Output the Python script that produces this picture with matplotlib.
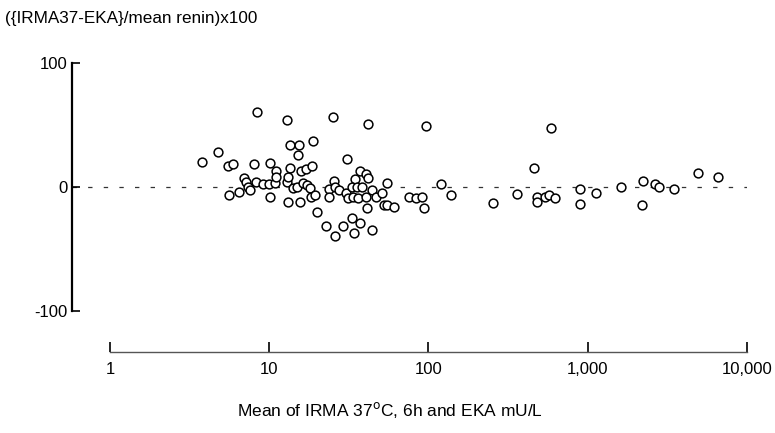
import numpy as np
import matplotlib
matplotlib.use("Agg")
import matplotlib.pyplot as plt

plt.rcParams["font.family"] = ["Liberation Sans", "DejaVu Sans"]
plt.rcParams["axes.unicode_minus"] = False

# mean of IRMA 37C and EKA (mU/L)
mean_renin = [
    3.8, 4.8, 5.5, 5.9, 8.0, 6.9, 7.1, 8.2, 7.4, 5.6, 6.5, 7.6, 8.4,
    13, 25, 42, 97, 13.5, 15.4, 15.2, 18.7, 10.1, 11, 13.5, 15.8, 17, 18.5,
    30.6, 37, 40.5, 42, 34.6, 25.4, 9.1, 9.9, 10.8, 11.1, 12.9, 13.2, 14,
    14.9, 16.4, 17.2, 18, 10.1, 13.2, 15.6, 18.2, 19.4, 20, 23.8, 25.9,
    23.8, 27.6, 30.3, 31.4, 33, 35.4, 38, 33.7, 36, 40.5, 41, 44, 46.6,
    51, 52.6, 54.6, 55, 61, 75, 84, 91, 94, 119, 33, 37, 22.8, 29, 26,
    34, 44,
    585, 460, 138, 255, 358, 478, 478, 539, 571, 623, 894, 894, 1121,
    1618, 2233, 2182, 2645, 2814, 3495, 4900, 6600,
]
# (IRMA37 - EKA) / mean renin x 100
rel_diff = [
    20, 28, 17, 18, 18, 7, 4, 4, 0, -7, -4, -3, 60,
    54, 56, 51, 49, 34, 34, 26, 37, 19, 13, 15, 13, 14, 17,
    22, 13, 10, 7, 6, 5, 2, 2, 3, 8, 4, 8, -1,
    0, 3, 1, -1, -8, -12, -12, -8, -7, -20, -2, 0,
    -8, -3, -5, -9, 0, -0.5, 0, -8, -9, -8, -17, -3, -8,
    -5, -15, 3, -15, -16, -8, -9, -8, -17, 2, -25, -29, -32, -32, -40,
    -37, -35,
    47, 15, -7, -13, -6, -8, -12, -8, -7, -9, -2, -14, -5,
    -0.5, 5, -15, 2, 0, -2, 11, 8,
]

xticks = [1, 10, 100, 1000, 10000]
xticklabels = ["1", "10", "100", "1,000", "10,000"]
yticks = [-100, 0, 100]

fig = plt.figure(figsize=(7.75, 4.33), dpi=100)
ax = fig.add_axes([0.0925, 0.187, 0.8714, 0.6681])

ax.scatter(mean_renin, rel_diff, s=40, facecolors="white", edgecolors="black",
           linewidths=1.1, zorder=3)
ax.axhline(0, color="#333333", lw=0.9, linestyle=(0, (3.5, 9)), zorder=1)

ax.set_xscale("log")
ax.set_xlim(0.575, 10000)
ax.set_ylim(-133.3, 100)
ax.set_xticks(xticks, xticklabels)
ax.minorticks_off()
ax.set_yticks(yticks)

for s in ["top", "right"]:
    ax.spines[s].set_visible(False)
ax.spines["left"].set_bounds(-100, 100)
ax.spines["left"].set_linewidth(1.6)
ax.spines["bottom"].set_bounds(1, 10000)
ax.spines["bottom"].set_color("#555555")
ax.spines["bottom"].set_linewidth(1.0)

ax.tick_params(axis="y", direction="in", length=6, width=1.2, pad=3, labelsize=12)
ax.tick_params(axis="x", direction="in", length=7, width=1.2, pad=7, labelsize=12,
               color="black")

fig.text(0.006, 1 - 19 / 433, "({IRMA37-EKA}/mean renin)x100", fontsize=12.3,
         ha="left", va="center")
fig.text(390 / 775, 1 - 410 / 433, "Mean of IRMA 37$^{\\rm o}$C, 6h and EKA mU/L",
         fontsize=12.5, ha="center", va="center")

fig.savefig("out.png", dpi=100)
